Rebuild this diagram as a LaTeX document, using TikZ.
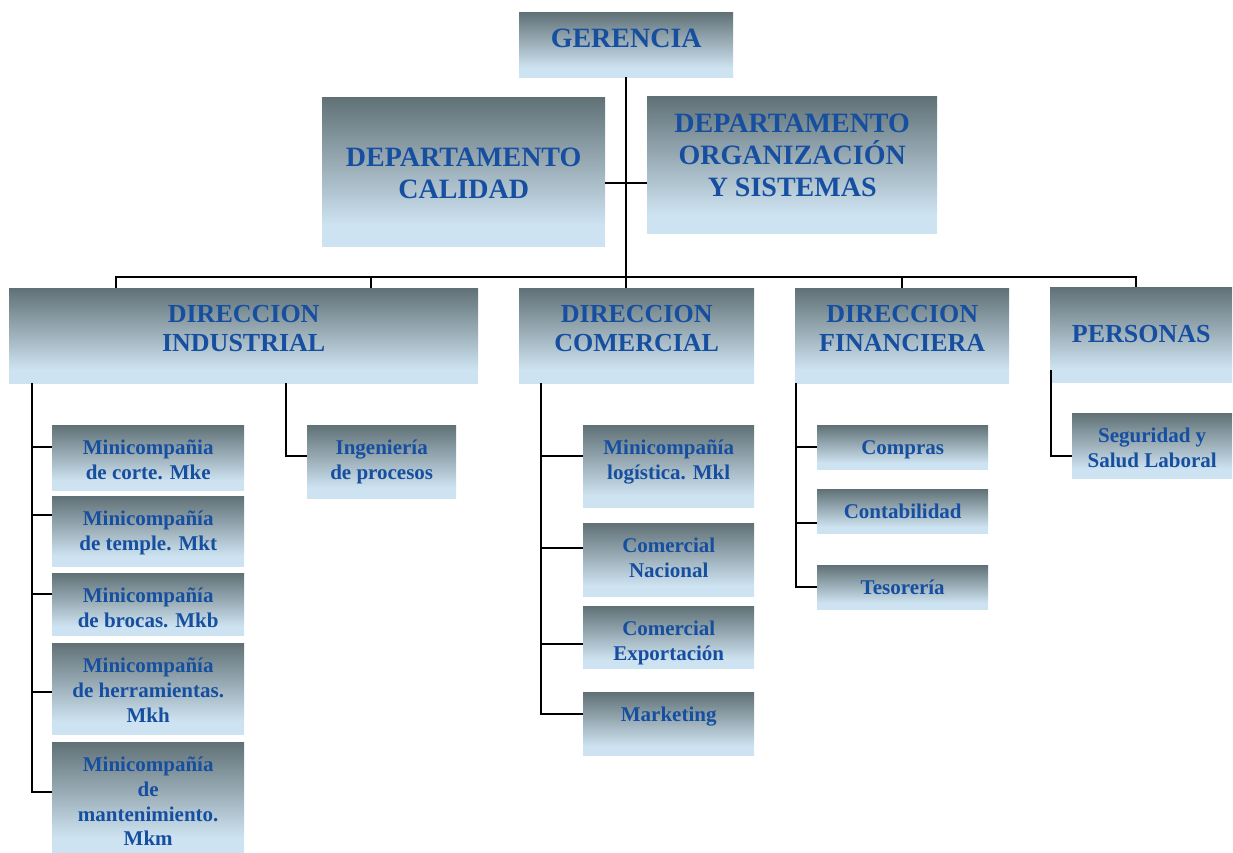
\documentclass[tikz,border=0pt]{standalone}
\usepackage{fontspec}
\setmainfont{Liberation Serif}
\usetikzlibrary{positioning}

\definecolor{boxtop}{RGB}{96,113,118}
\definecolor{boxlow}{RGB}{206,227,241}
\definecolor{txtblue}{RGB}{22,78,160}
\pgfdeclareverticalshading{boxshade}{100bp}{color(0bp)=(boxlow); color(25bp)=(boxlow); color(32bp)=(boxlow); color(75bp)=(boxtop); color(100bp)=(boxtop)}

\tikzset{
  orgbox/.style={shading=boxshade, draw=none, inner sep=0pt, anchor=north west},
  bigtxt/.style={text=txtblue, font=\fontsize{28}{32}\selectfont\bfseries, align=center,
    anchor=north, inner sep=0pt, execute at begin node={\rule{0pt}{1em}}},
  midtxt/.style={bigtxt, font=\fontsize{26}{29}\selectfont\bfseries},
  smalltxt/.style={bigtxt, font=\fontsize{21}{24.7}\selectfont\bfseries},
  link/.style={line width=1.6pt, black}
}

\begin{document}
\begin{tikzpicture}[x=1pt, y=-1pt]
\useasboundingbox (0,0) rectangle (1233,853);

% top
\node[orgbox, minimum width=214, minimum height=65] (gerencia) at (519,12) {};
\node[orgbox, minimum width=283, minimum height=149] (calidad) at (322,97) {};
\node[orgbox, minimum width=290, minimum height=137] (orgsis) at (647,96) {};

% direcciones
\node[orgbox, minimum width=469, minimum height=95] (industrial) at (9,288) {};
\node[orgbox, minimum width=235, minimum height=95] (comercial) at (519,288) {};
\node[orgbox, minimum width=214, minimum height=95] (financiera) at (795,288) {};
\node[orgbox, minimum width=182, minimum height=95] (personas) at (1050,287) {};

% industrial
\node[orgbox, minimum width=192, minimum height=65] (mke) at (52,425) {};
\node[orgbox, minimum width=192, minimum height=70] (mkt) at (52,496) {};
\node[orgbox, minimum width=192, minimum height=62] (mkb) at (52,573) {};
\node[orgbox, minimum width=192, minimum height=91] (mkh) at (52,643) {};
\node[orgbox, minimum width=192, minimum height=111] (mkm) at (52,742) {};
\node[orgbox, minimum width=149, minimum height=73] (ingen) at (307,425) {};

% comercial
\node[orgbox, minimum width=171, minimum height=82] (mkl) at (583,425) {};
\node[orgbox, minimum width=171, minimum height=73] (nacional) at (583,523) {};
\node[orgbox, minimum width=171, minimum height=62] (export) at (583,606) {};
\node[orgbox, minimum width=171, minimum height=63] (marketing) at (583,692) {};

% financiera
\node[orgbox, minimum width=171, minimum height=44] (compras) at (817,425) {};
\node[orgbox, minimum width=171, minimum height=44] (conta) at (817,489) {};
\node[orgbox, minimum width=171, minimum height=44] (teso) at (817,565) {};

% personas
\node[orgbox, minimum width=160, minimum height=65] (seguridad) at (1072,413) {};

% texts
\node[bigtxt] (gerencia-t) at ([yshift=-7pt]gerencia.north) {GERENCIA};
\node[bigtxt] (calidad-t) at ([yshift=-51pt]calidad.north) {DEPARTAMENTO\\CALIDAD};
\node[bigtxt] (orgsis-t) at ([yshift=-18pt]orgsis.north) {DEPARTAMENTO\\ORGANIZACIÓN\\Y SISTEMAS};
\node[midtxt] (industrial-t) at ([yshift=-17pt]industrial.north) {DIRECCION\\INDUSTRIAL};
\node[midtxt] (comercial-t) at ([yshift=-17pt]comercial.north) {DIRECCION\\COMERCIAL};
\node[midtxt] (financiera-t) at ([yshift=-17pt]financiera.north) {DIRECCION\\FINANCIERA};
\node[midtxt] (personas-t) at ([yshift=-29pt]personas.north) {PERSONAS};
\node[smalltxt] (mke-t) at ([yshift=-15pt]mke.north) {Minicompañia\\de corte. Mke};
\node[smalltxt] (mkt-t) at ([yshift=-15pt]mkt.north) {Minicompañía\\de temple. Mkt};
\node[smalltxt] (mkb-t) at ([yshift=-15pt]mkb.north) {Minicompañía\\de brocas. Mkb};
\node[smalltxt] (mkh-t) at ([yshift=-15pt]mkh.north) {Minicompañía\\de herramientas.\\Mkh};
\node[smalltxt] (mkm-t) at ([yshift=-15pt]mkm.north) {Minicompañía\\de\\mantenimiento.\\Mkm};
\node[smalltxt] (ingen-t) at ([yshift=-15pt]ingen.north) {Ingeniería\\de procesos};
\node[smalltxt] (mkl-t) at ([yshift=-15pt]mkl.north) {Minicompañía\\logística. Mkl};
\node[smalltxt] (nacional-t) at ([yshift=-15pt]nacional.north) {Comercial\\Nacional};
\node[smalltxt] (export-t) at ([yshift=-15pt]export.north) {Comercial\\Exportación};
\node[smalltxt] (marketing-t) at ([yshift=-8pt]marketing.north) {Marketing};
\node[smalltxt] (compras-t) at ([yshift=-8pt]compras.north) {Compras};
\node[smalltxt] (conta-t) at ([yshift=-8pt]conta.north) {Contabilidad};
\node[smalltxt] (teso-t) at ([yshift=-8pt]teso.north) {Tesorería};
\node[smalltxt] (seguridad-t) at ([yshift=-15pt]seguridad.north) {Seguridad y\\Salud Laboral};

% connectors
\coordinate (hub) at (625,183);
\coordinate (bus) at (625,277);
\draw[link] (gerencia.south) -- (gerencia.south |- comercial.north);
\draw[link] (hub -| calidad.east) -- (hub -| orgsis.west);
\draw[link] ([xshift=-127.5pt]industrial.north) |- ([xshift=-5pt]personas.north |- bus)
  -- ([xshift=-5pt]personas.north);
\draw[link] ([xshift=127.5pt]industrial.north) -- ([xshift=127.5pt]industrial.north |- bus);
\draw[link] (financiera.north) -- (financiera.north |- bus);

\coordinate (ind-s) at ([xshift=23pt]industrial.south west);
\draw[link] (ind-s) |- ([yshift=10.5pt]mke.west);
\draw[link] (ind-s) |- ([yshift=16pt]mkt.west);
\draw[link] (ind-s) |- ([yshift=10pt]mkb.west);
\draw[link] (ind-s) |- ([yshift=-3.5pt]mkh.west);
\draw[link] (ind-s) |- ([yshift=5.5pt]mkm.west);
\coordinate (ing-s) at ([xshift=277pt]industrial.south west);
\draw[link] (ing-s) |- ([yshift=5.5pt]ingen.west);

\coordinate (com-s) at ([xshift=22pt]comercial.south west);
\draw[link] (com-s) |- ([yshift=10pt]mkl.west);
\draw[link] (com-s) |- ([yshift=11.5pt]nacional.west);
\draw[link] (com-s) |- ([yshift=-7pt]export.west);
\draw[link] (com-s) |- ([yshift=9.5pt]marketing.west);

\coordinate (fin-s) at ([xshift=1pt]financiera.south west);
\draw[link] (fin-s) |- (compras.west);
\draw[link] (fin-s) |- ([yshift=-12pt]conta.west);
\draw[link] (fin-s) |- (teso.west);

\coordinate (per-s) at ([xshift=1pt,yshift=12pt]personas.south west);
\draw[link] (per-s) |- ([yshift=-10.5pt]seguridad.west);
\end{tikzpicture}
\end{document}
